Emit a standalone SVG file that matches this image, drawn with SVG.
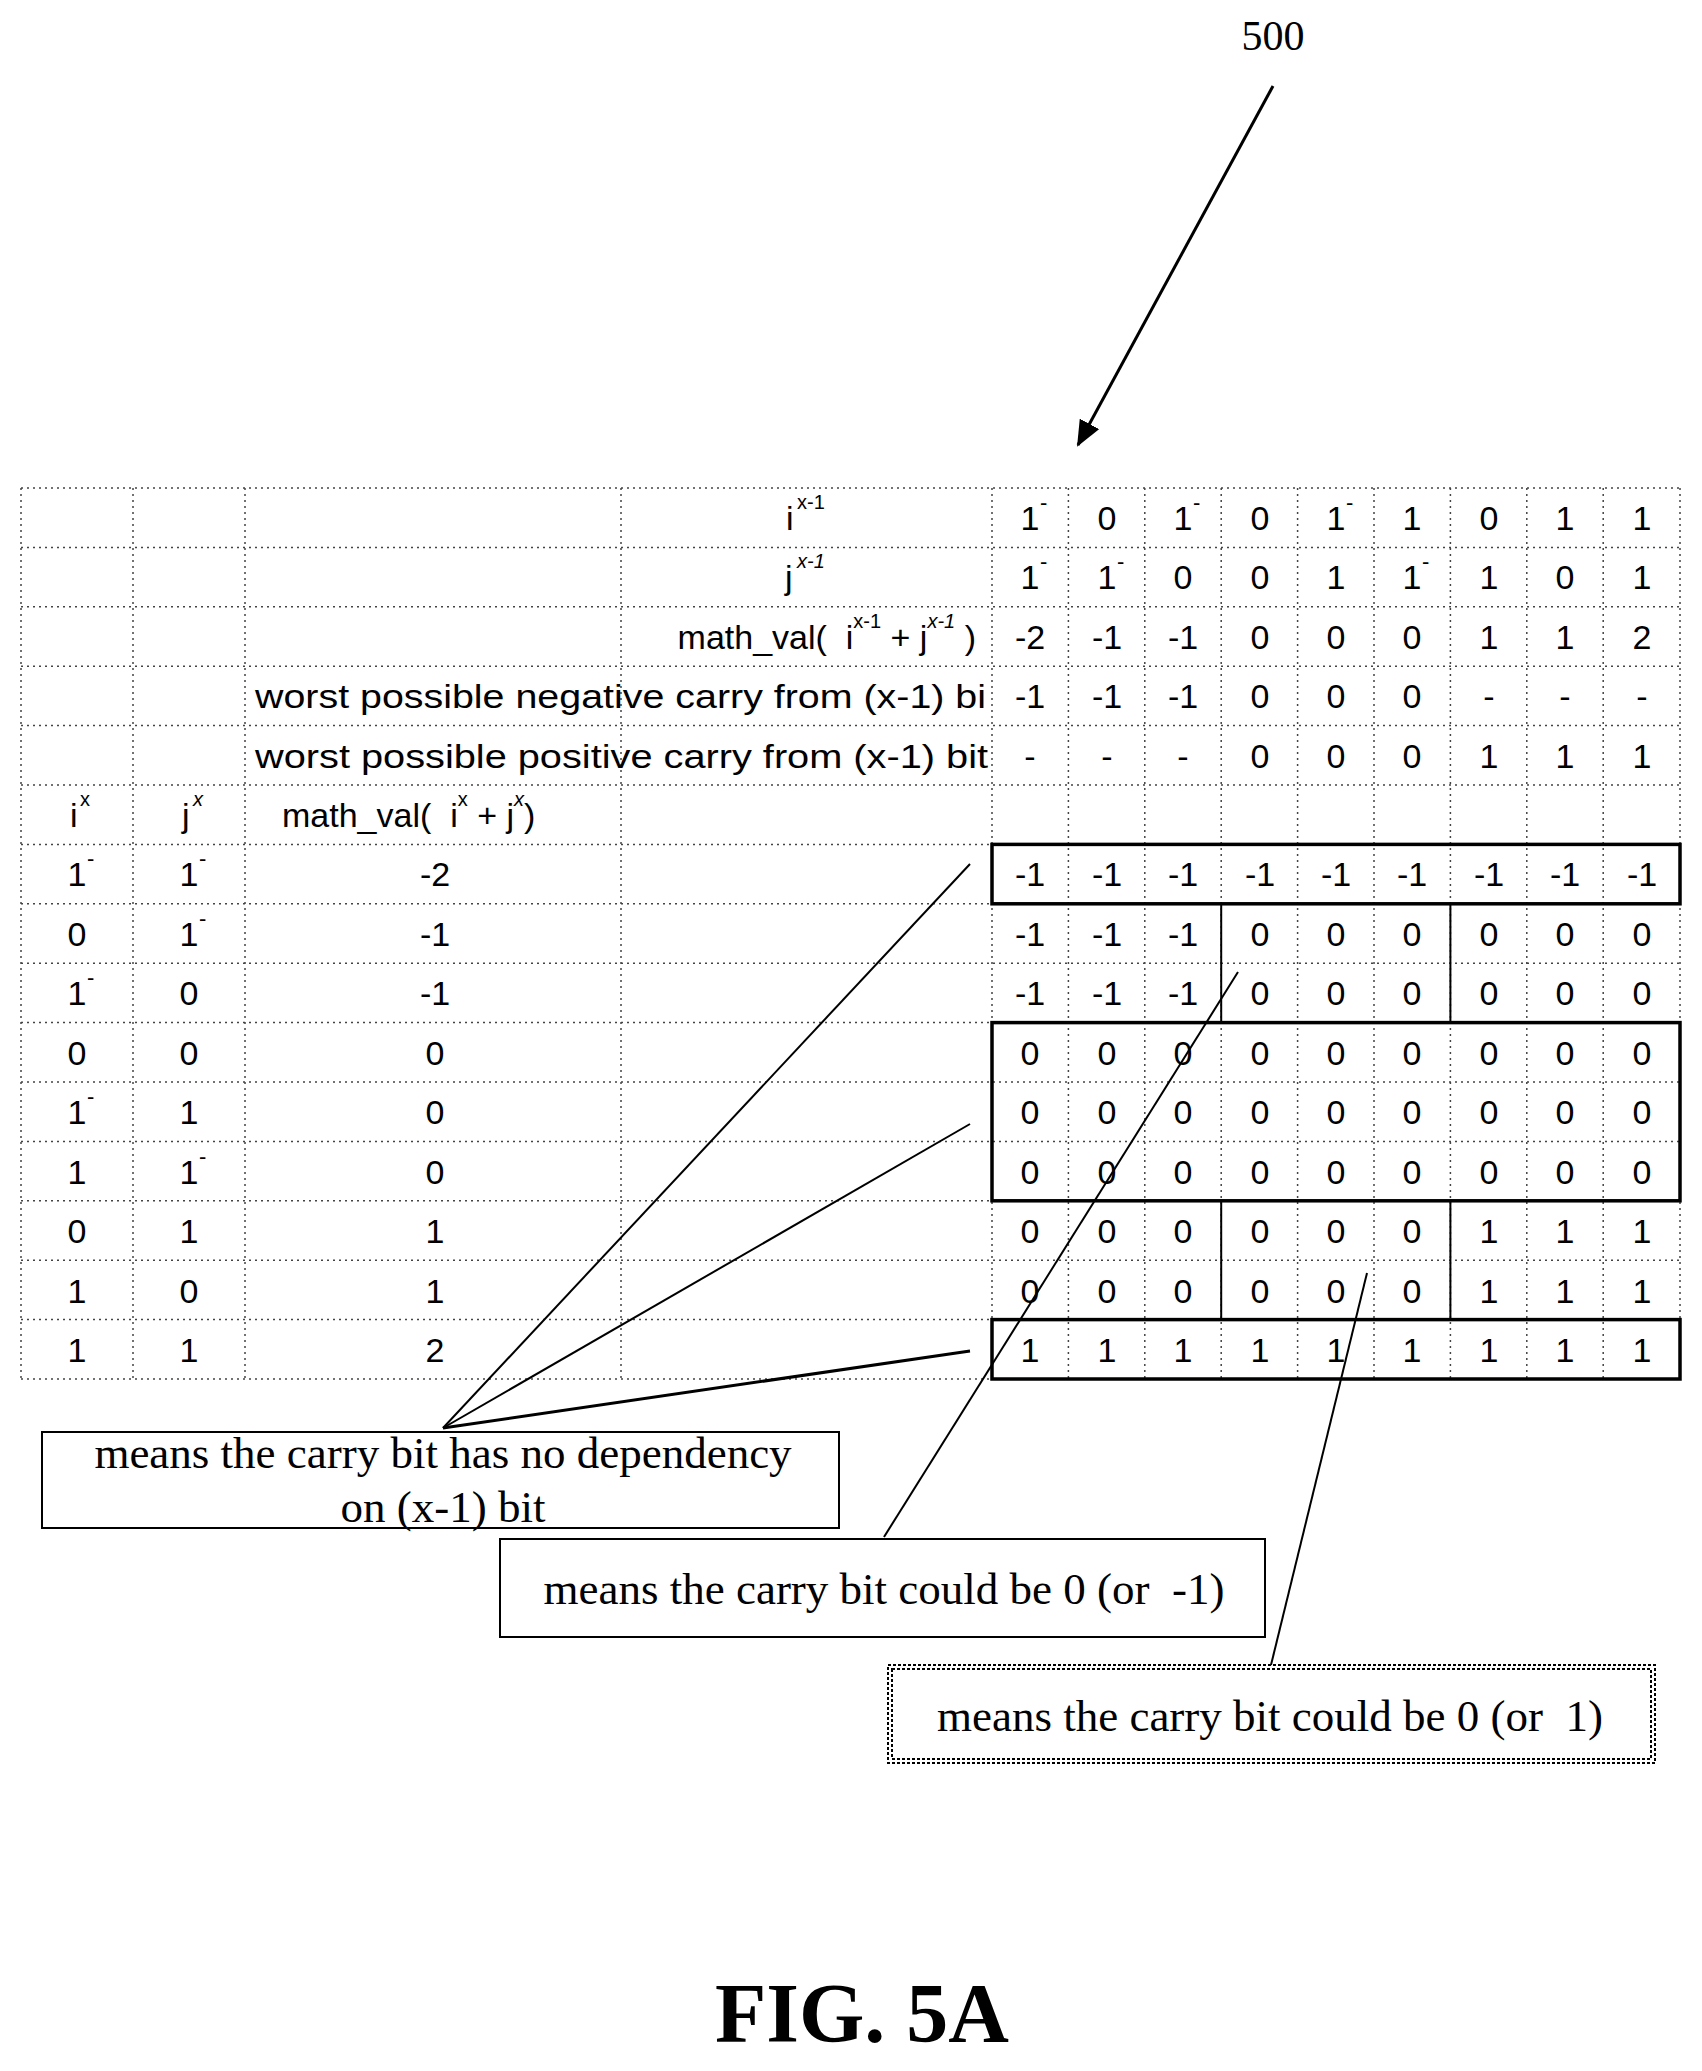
<svg xmlns="http://www.w3.org/2000/svg" width="1702" height="2071" viewBox="0 0 1702 2071">
<style>
.g{stroke:#444;stroke-width:1.5;stroke-dasharray:2,4;fill:none}
.t{font-family:"Liberation Sans",sans-serif;font-size:34px;text-anchor:middle;fill:#000}
.l{font-family:"Liberation Sans",sans-serif;font-size:34px;fill:#000}
.s{font-family:"Liberation Sans",sans-serif;font-size:20px;fill:#000}
.b{font-family:"Liberation Sans",sans-serif;font-size:22px;fill:#000}
.bx{fill:none;stroke:#000;stroke-width:3.5}
.sl{stroke:#000;stroke-width:2}
.c{stroke:#000;stroke-width:2;fill:none}
.m{font-family:"Liberation Serif",serif;font-size:45px;text-anchor:middle;fill:#000}
</style>
<defs><marker id="ah" markerWidth="26" markerHeight="22" refX="24" refY="11" orient="auto" markerUnits="userSpaceOnUse"><path d="M0,0 L26,11 L0,22 Z" fill="#000"/></marker></defs>
<g id="grid">
<path class="g" d="M21,488H1680M21,547.4H1680M21,606.8H1680M21,666.2H1680M21,725.6H1680M21,785H1680M21,844.4H1680M21,903.8H1680M21,963.2H1680M21,1022.6H1680M21,1082H1680M21,1141.4H1680M21,1200.8H1680M21,1260.2H1680M21,1319.6H1680M21,1379H1680"/>
<path class="g" d="M21,488V1379M133,488V1379M245,488V1379M621,488V1379M992,488V1379M1068.4,488V1379M1144.8,488V1379M1221.2,488V1379M1297.6,488V1379M1374,488V1379M1450.4,488V1379M1526.8,488V1379M1603.2,488V1379M1680,488V1379"/>
</g>
<g id="boxes">
<rect class="bx" x="992" y="844.4" width="688" height="59.4"/>
<rect class="bx" x="992" y="1022.6" width="688" height="178.2"/>
<rect class="bx" x="992" y="1319.6" width="688" height="59.4"/>
<path class="sl" d="M1221.2,903.8V1022.6M1450.4,903.8V1022.6M1221.2,1200.8V1319.6M1450.4,1200.8V1319.6"/>
</g>
<g id="headers">
<text class="l" x="786" y="530">i</text><text class="s" x="797" y="509">x-1</text>
<text class="l" x="785" y="589">j</text><text class="s" x="797" y="568" font-style="italic">x-1</text>
<text class="l" x="976" y="649" text-anchor="end" xml:space="preserve">math_val(  i<tspan class="s" dy="-21">x-1</tspan><tspan dy="21"> + j</tspan><tspan class="s" dy="-21" font-style="italic">x-1</tspan><tspan dy="21"> )</tspan></text>
<text class="l" x="255" y="708" textLength="731" lengthAdjust="spacingAndGlyphs">worst possible negative carry from (x-1) bi</text>
<text class="l" x="255" y="768" textLength="733" lengthAdjust="spacingAndGlyphs">worst possible positive carry from (x-1) bit</text>
<text class="l" x="70" y="827">i</text><text class="s" x="80" y="806">x</text>
<text class="l" x="182" y="827">j</text><text class="s" x="193" y="806" font-style="italic">x</text>
<text class="l" x="282" y="827" xml:space="preserve">math_val(  i<tspan class="s" dy="-21">x</tspan><tspan dy="21"> + j</tspan><tspan class="s" dy="-21" font-style="italic">x</tspan><tspan dy="21">)</tspan></text>
</g>
<g id="values">
<text class="t" x="1030" y="530">1</text><text class="b" x="1040" y="510">-</text>
<text class="t" x="1107" y="530">0</text>
<text class="t" x="1183" y="530">1</text><text class="b" x="1193" y="510">-</text>
<text class="t" x="1260" y="530">0</text>
<text class="t" x="1336" y="530">1</text><text class="b" x="1346" y="510">-</text>
<text class="t" x="1412" y="530">1</text><text class="t" x="1489" y="530">0</text><text class="t" x="1565" y="530">1</text><text class="t" x="1642" y="530">1</text>
<text class="t" x="1030" y="589">1</text><text class="b" x="1040" y="569">-</text>
<text class="t" x="1107" y="589">1</text><text class="b" x="1117" y="569">-</text>
<text class="t" x="1183" y="589">0</text><text class="t" x="1260" y="589">0</text><text class="t" x="1336" y="589">1</text>
<text class="t" x="1412" y="589">1</text><text class="b" x="1422" y="569">-</text>
<text class="t" x="1489" y="589">1</text><text class="t" x="1565" y="589">0</text><text class="t" x="1642" y="589">1</text>
<text class="t" x="1030" y="649">-2</text><text class="t" x="1107" y="649">-1</text><text class="t" x="1183" y="649">-1</text><text class="t" x="1260" y="649">0</text><text class="t" x="1336" y="649">0</text><text class="t" x="1412" y="649">0</text><text class="t" x="1489" y="649">1</text><text class="t" x="1565" y="649">1</text><text class="t" x="1642" y="649">2</text>
<text class="t" x="1030" y="708">-1</text><text class="t" x="1107" y="708">-1</text><text class="t" x="1183" y="708">-1</text><text class="t" x="1260" y="708">0</text><text class="t" x="1336" y="708">0</text><text class="t" x="1412" y="708">0</text><text class="t" x="1489" y="708">-</text><text class="t" x="1565" y="708">-</text><text class="t" x="1642" y="708">-</text>
<text class="t" x="1030" y="768">-</text><text class="t" x="1107" y="768">-</text><text class="t" x="1183" y="768">-</text><text class="t" x="1260" y="768">0</text><text class="t" x="1336" y="768">0</text><text class="t" x="1412" y="768">0</text><text class="t" x="1489" y="768">1</text><text class="t" x="1565" y="768">1</text><text class="t" x="1642" y="768">1</text>
<text class="t" x="1030" y="886">-1</text><text class="t" x="1107" y="886">-1</text><text class="t" x="1183" y="886">-1</text><text class="t" x="1260" y="886">-1</text><text class="t" x="1336" y="886">-1</text><text class="t" x="1412" y="886">-1</text><text class="t" x="1489" y="886">-1</text><text class="t" x="1565" y="886">-1</text><text class="t" x="1642" y="886">-1</text>
<text class="t" x="1030" y="946">-1</text><text class="t" x="1107" y="946">-1</text><text class="t" x="1183" y="946">-1</text><text class="t" x="1260" y="946">0</text><text class="t" x="1336" y="946">0</text><text class="t" x="1412" y="946">0</text><text class="t" x="1489" y="946">0</text><text class="t" x="1565" y="946">0</text><text class="t" x="1642" y="946">0</text>
<text class="t" x="1030" y="1005">-1</text><text class="t" x="1107" y="1005">-1</text><text class="t" x="1183" y="1005">-1</text><text class="t" x="1260" y="1005">0</text><text class="t" x="1336" y="1005">0</text><text class="t" x="1412" y="1005">0</text><text class="t" x="1489" y="1005">0</text><text class="t" x="1565" y="1005">0</text><text class="t" x="1642" y="1005">0</text>
<text class="t" x="1030" y="1065">0</text><text class="t" x="1107" y="1065">0</text><text class="t" x="1183" y="1065">0</text><text class="t" x="1260" y="1065">0</text><text class="t" x="1336" y="1065">0</text><text class="t" x="1412" y="1065">0</text><text class="t" x="1489" y="1065">0</text><text class="t" x="1565" y="1065">0</text><text class="t" x="1642" y="1065">0</text>
<text class="t" x="1030" y="1124">0</text><text class="t" x="1107" y="1124">0</text><text class="t" x="1183" y="1124">0</text><text class="t" x="1260" y="1124">0</text><text class="t" x="1336" y="1124">0</text><text class="t" x="1412" y="1124">0</text><text class="t" x="1489" y="1124">0</text><text class="t" x="1565" y="1124">0</text><text class="t" x="1642" y="1124">0</text>
<text class="t" x="1030" y="1184">0</text><text class="t" x="1107" y="1184">0</text><text class="t" x="1183" y="1184">0</text><text class="t" x="1260" y="1184">0</text><text class="t" x="1336" y="1184">0</text><text class="t" x="1412" y="1184">0</text><text class="t" x="1489" y="1184">0</text><text class="t" x="1565" y="1184">0</text><text class="t" x="1642" y="1184">0</text>
<text class="t" x="1030" y="1243">0</text><text class="t" x="1107" y="1243">0</text><text class="t" x="1183" y="1243">0</text><text class="t" x="1260" y="1243">0</text><text class="t" x="1336" y="1243">0</text><text class="t" x="1412" y="1243">0</text><text class="t" x="1489" y="1243">1</text><text class="t" x="1565" y="1243">1</text><text class="t" x="1642" y="1243">1</text>
<text class="t" x="1030" y="1303">0</text><text class="t" x="1107" y="1303">0</text><text class="t" x="1183" y="1303">0</text><text class="t" x="1260" y="1303">0</text><text class="t" x="1336" y="1303">0</text><text class="t" x="1412" y="1303">0</text><text class="t" x="1489" y="1303">1</text><text class="t" x="1565" y="1303">1</text><text class="t" x="1642" y="1303">1</text>
<text class="t" x="1030" y="1362">1</text><text class="t" x="1107" y="1362">1</text><text class="t" x="1183" y="1362">1</text><text class="t" x="1260" y="1362">1</text><text class="t" x="1336" y="1362">1</text><text class="t" x="1412" y="1362">1</text><text class="t" x="1489" y="1362">1</text><text class="t" x="1565" y="1362">1</text><text class="t" x="1642" y="1362">1</text>
</g>
<g id="left">
<text class="t" x="77" y="886">1</text><text class="b" x="87" y="866">-</text><text class="t" x="189" y="886">1</text><text class="b" x="199" y="866">-</text><text class="t" x="435" y="886">-2</text>
<text class="t" x="77" y="946">0</text><text class="t" x="189" y="946">1</text><text class="b" x="199" y="926">-</text><text class="t" x="435" y="946">-1</text>
<text class="t" x="77" y="1005">1</text><text class="b" x="87" y="985">-</text><text class="t" x="189" y="1005">0</text><text class="t" x="435" y="1005">-1</text>
<text class="t" x="77" y="1065">0</text><text class="t" x="189" y="1065">0</text><text class="t" x="435" y="1065">0</text>
<text class="t" x="77" y="1124">1</text><text class="b" x="87" y="1104">-</text><text class="t" x="189" y="1124">1</text><text class="t" x="435" y="1124">0</text>
<text class="t" x="77" y="1184">1</text><text class="t" x="189" y="1184">1</text><text class="b" x="199" y="1164">-</text><text class="t" x="435" y="1184">0</text>
<text class="t" x="77" y="1243">0</text><text class="t" x="189" y="1243">1</text><text class="t" x="435" y="1243">1</text>
<text class="t" x="77" y="1303">1</text><text class="t" x="189" y="1303">0</text><text class="t" x="435" y="1303">1</text>
<text class="t" x="77" y="1362">1</text><text class="t" x="189" y="1362">1</text><text class="t" x="435" y="1362">2</text>
</g>
<g id="connectors">
<line class="sl" x1="443" y1="1428" x2="970" y2="864"/>
<line class="sl" x1="443" y1="1428" x2="970" y2="1124"/>
<line x1="443" y1="1428" x2="970" y2="1351" stroke="#000" stroke-width="3"/>
<line class="sl" x1="884" y1="1537" x2="1238" y2="972"/>
<line class="sl" x1="1271" y1="1665" x2="1367" y2="1273"/>
<line stroke="#000" stroke-width="3" x1="1273" y1="86" x2="1078" y2="445" marker-end="url(#ah)"/>
</g>
<g id="callout1">
<rect class="c" x="42" y="1432" width="797" height="96" stroke-width="3"/>
<text class="m" x="443" y="1468">means the carry bit has no dependency</text>
<text class="m" x="443" y="1522">on (x-1) bit</text>
</g>
<g id="callout2">
<rect class="c" x="500" y="1539" width="765" height="98" stroke-width="3"/>
<text class="m" x="884" y="1604" xml:space="preserve">means the carry bit could be 0 (or  -1)</text>
</g>
<g id="callout3">
<rect class="c" x="888" y="1665" width="767" height="98" stroke-dasharray="3,2"/>
<rect class="c" x="892" y="1669" width="759" height="90" stroke-dasharray="3,2"/>
<text class="m" x="1270" y="1731" xml:space="preserve">means the carry bit could be 0 (or  1)</text>
</g>
<text x="1273" y="50" font-family="Liberation Serif,serif" font-size="42" text-anchor="middle">500</text>
<text x="862" y="2042" font-family="Liberation Serif,serif" font-size="84" font-weight="bold" text-anchor="middle">FIG. 5A</text>
</svg>
